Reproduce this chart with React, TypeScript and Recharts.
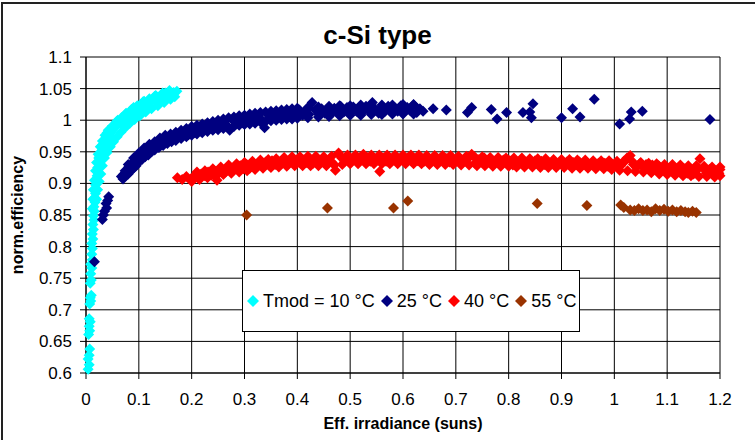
import React from "react";
import { CartesianGrid, Scatter, ScatterChart, XAxis, YAxis } from "recharts";

const FONT = '"Liberation Sans", Arial, sans-serif';

// [irradiance (suns), normalised efficiency]
const tmod10: [number, number][] = [
  [0.004, 0.606], [0.006, 0.613], [0.004, 0.622], [0.006, 0.628], [0.007, 0.638], [0.005, 0.661],
  [0.007, 0.667], [0.006, 0.674], [0.008, 0.681], [0.006, 0.686], [0.007, 0.709], [0.009, 0.714],
  [0.008, 0.719], [0.01, 0.723], [0.008, 0.742], [0.01, 0.747], [0.009, 0.757], [0.011, 0.766],
  [0.009, 0.772], [0.012, 0.779], [0.011, 0.788], [0.012, 0.797], [0.011, 0.805], [0.013, 0.812],
  [0.012, 0.82], [0.014, 0.827], [0.013, 0.835], [0.015, 0.842], [0.014, 0.849], [0.016, 0.856],
  [0.015, 0.863], [0.017, 0.87], [0.016, 0.877], [0.018, 0.884], [0.019, 0.891], [0.018, 0.898],
  [0.02, 0.905], [0.021, 0.912], [0.023, 0.918], [0.022, 0.925], [0.025, 0.931], [0.027, 0.937],
  [0.026, 0.943], [0.029, 0.948], [0.031, 0.953], [0.033, 0.958], [0.036, 0.963], [0.038, 0.968],
  [0.041, 0.972], [0.044, 0.976], [0.047, 0.98], [0.05, 0.984], [0.054, 0.988], [0.058, 0.992],
  [0.062, 0.995], [0.066, 0.998], [0.071, 1.001], [0.076, 1.004], [0.081, 1.008], [0.086, 1.011],
  [0.092, 1.014], [0.098, 1.017], [0.104, 1.02], [0.11, 1.023], [0.117, 1.026], [0.124, 1.029],
  [0.131, 1.032], [0.138, 1.035], [0.145, 1.037], [0.152, 1.04], [0.159, 1.042], [0.166, 1.044],
  [0.172, 1.046], [0.02, 0.92], [0.024, 0.94], [0.03, 0.96], [0.04, 0.98], [0.05, 0.99],
  [0.06, 1.0], [0.075, 1.01], [0.09, 1.02], [0.11, 1.03], [0.13, 1.038], [0.15, 1.043],
  [0.034, 0.945], [0.045, 0.97], [0.07, 0.992], [0.1, 1.011], [0.12, 1.02], [0.14, 1.03],
  [0.012, 0.86], [0.013, 0.875], [0.014, 0.89], [0.016, 0.905], [0.018, 0.92], [0.02, 0.933],
  [0.023, 0.946], [0.027, 0.958], [0.031, 0.967], [0.036, 0.976], [0.042, 0.984], [0.05, 0.991],
  [0.058, 0.998], [0.067, 1.004], [0.076, 1.011], [0.086, 1.017], [0.097, 1.023], [0.108, 1.029],
  [0.12, 1.034], [0.132, 1.039], [0.145, 1.043], [0.158, 1.047],
  [0.02, 0.875], [0.022, 0.89], [0.025, 0.903], [0.028, 0.915], [0.031, 0.928], [0.035, 0.94],
  [0.04, 0.949], [0.046, 0.958], [0.052, 0.966], [0.059, 0.974], [0.066, 0.981], [0.074, 0.988],
  [0.083, 0.995], [0.092, 1.001], [0.102, 1.007], [0.113, 1.013], [0.124, 1.018], [0.136, 1.023],
  [0.148, 1.028], [0.16, 1.033], [0.168, 1.037]
];

const tmod25: [number, number][] = [
  [0.016, 0.776], [0.031, 0.843], [0.033, 0.85], [0.035, 0.856], [0.039, 0.861], [0.038, 0.868],
  [0.041, 0.873], [0.043, 0.879],
  [0.067, 0.911], [0.071, 0.914], [0.074, 0.92], [0.078, 0.917], [0.081, 0.926], [0.084, 0.922],
  [0.087, 0.932], [0.09, 0.929], [0.093, 0.938], [0.096, 0.934], [0.099, 0.945], [0.102, 0.939],
  [0.105, 0.948], [0.108, 0.944], [0.111, 0.952], [0.114, 0.947], [0.117, 0.955], [0.12, 0.95],
  [0.124, 0.96], [0.128, 0.955], [0.132, 0.963], [0.136, 0.958], [0.14, 0.968], [0.144, 0.962],
  [0.148, 0.971], [0.152, 0.966], [0.157, 0.974], [0.162, 0.969], [0.167, 0.977], [0.172, 0.972],
  [0.177, 0.979], [0.182, 0.975], [0.188, 0.982], [0.194, 0.977], [0.2, 0.986], [0.206, 0.98],
  [0.212, 0.988], [0.218, 0.982], [0.224, 0.99], [0.23, 0.985], [0.236, 0.993], [0.242, 0.987],
  [0.248, 0.996], [0.254, 0.99], [0.26, 0.998], [0.266, 0.992], [0.272, 0.984], [0.278, 1.0],
  [0.284, 0.994], [0.29, 1.002], [0.296, 0.996], [0.302, 1.004], [0.308, 0.998], [0.314, 1.006],
  [0.32, 1.0], [0.326, 1.007], [0.332, 1.001], [0.338, 0.988], [0.344, 1.009], [0.35, 1.003],
  [0.356, 1.01], [0.362, 1.004], [0.368, 1.012], [0.374, 1.005], [0.38, 1.013], [0.386, 1.006],
  [0.392, 1.014], [0.398, 1.007], [0.404, 1.016], [0.41, 1.008], [0.416, 1.015], [0.422, 1.009],
  [0.428, 1.028], [0.434, 1.016], [0.44, 1.01], [0.446, 1.018], [0.452, 1.011], [0.458, 1.017],
  [0.464, 1.01], [0.47, 1.019], [0.476, 1.012], [0.482, 1.022], [0.488, 1.013], [0.494, 1.02],
  [0.5, 1.012], [0.506, 1.021], [0.512, 1.014], [0.518, 1.02], [0.524, 1.013], [0.53, 1.022],
  [0.536, 1.015], [0.542, 1.028], [0.548, 1.017], [0.554, 1.011], [0.56, 1.021], [0.566, 1.014],
  [0.572, 1.022], [0.578, 1.013], [0.584, 1.02], [0.59, 1.014], [0.596, 1.023], [0.602, 1.013],
  [0.608, 1.02], [0.614, 1.015], [0.62, 1.025], [0.626, 1.012], [0.632, 1.018], [0.638, 1.014],
  [0.07, 0.907], [0.075, 0.912], [0.08, 0.915], [0.085, 0.92], [0.09, 0.924], [0.095, 0.928],
  [0.1, 0.934], [0.106, 0.938], [0.112, 0.942], [0.118, 0.945], [0.124, 0.95], [0.13, 0.953],
  [0.138, 0.957], [0.146, 0.96], [0.154, 0.963], [0.162, 0.966], [0.17, 0.968], [0.18, 0.971],
  [0.19, 0.974], [0.2, 0.976], [0.21, 0.978], [0.22, 0.98], [0.23, 0.982], [0.24, 0.984],
  [0.25, 0.985], [0.26, 0.987], [0.27, 0.988], [0.28, 0.99], [0.29, 0.992], [0.3, 0.993],
  [0.31, 0.994], [0.32, 0.995], [0.33, 0.997], [0.34, 0.998], [0.35, 0.999], [0.36, 1.0],
  [0.37, 1.001], [0.38, 1.002], [0.39, 1.002], [0.4, 1.003], [0.42, 1.004], [0.44, 1.005],
  [0.46, 1.006], [0.48, 1.007], [0.5, 1.008], [0.52, 1.008], [0.54, 1.009], [0.56, 1.009],
  [0.58, 1.01], [0.6, 1.01], [0.62, 1.01],
  [0.08, 0.93], [0.09, 0.94], [0.1, 0.948], [0.11, 0.956], [0.12, 0.962], [0.13, 0.966],
  [0.14, 0.972], [0.15, 0.976], [0.16, 0.978], [0.17, 0.981], [0.18, 0.984], [0.19, 0.987],
  [0.2, 0.99], [0.21, 0.992], [0.22, 0.994], [0.23, 0.996], [0.24, 0.998], [0.25, 1.0],
  [0.26, 1.002], [0.27, 1.004], [0.28, 1.005], [0.29, 1.007], [0.3, 1.008], [0.31, 1.01],
  [0.32, 1.011], [0.33, 1.012], [0.34, 1.013], [0.35, 1.014], [0.36, 1.015], [0.37, 1.016],
  [0.38, 1.017], [0.39, 1.018], [0.4, 1.019], [0.42, 1.02], [0.44, 1.021], [0.46, 1.022],
  [0.48, 1.023], [0.5, 1.023], [0.52, 1.024], [0.54, 1.024], [0.56, 1.024], [0.58, 1.024],
  [0.6, 1.025], [0.62, 1.024],
  [0.657, 1.018], [0.682, 1.016], [0.722, 1.012], [0.73, 1.02], [0.767, 1.017], [0.778, 1.002],
  [0.796, 1.012], [0.827, 1.012], [0.84, 1.013], [0.843, 1.004], [0.846, 1.026], [0.9, 1.004],
  [0.921, 1.018], [0.935, 1.005], [0.962, 1.033], [1.01, 0.994], [1.029, 1.002], [1.032, 1.013],
  [1.053, 1.014], [1.181, 1.001]
];

const tmod40: [number, number][] = [
  [0.173, 0.909], [0.182, 0.906], [0.19, 0.911], [0.198, 0.907], [0.205, 0.912], [0.212, 0.909],
  [0.218, 0.915], [0.225, 0.912], [0.231, 0.918], [0.237, 0.913], [0.243, 0.92], [0.248, 0.905],
  [0.252, 0.917], [0.258, 0.922], [0.264, 0.918], [0.27, 0.925], [0.275, 0.92], [0.281, 0.926],
  [0.287, 0.922], [0.292, 0.928], [0.298, 0.923], [0.304, 0.93], [0.31, 0.924], [0.316, 0.931],
  [0.322, 0.926], [0.328, 0.933], [0.334, 0.928], [0.34, 0.934], [0.346, 0.929], [0.352, 0.936],
  [0.358, 0.93], [0.364, 0.935], [0.37, 0.931], [0.376, 0.937], [0.382, 0.93], [0.388, 0.936],
  [0.394, 0.932], [0.4, 0.938], [0.406, 0.932], [0.412, 0.937], [0.418, 0.933], [0.424, 0.939],
  [0.43, 0.932], [0.436, 0.938], [0.442, 0.934], [0.448, 0.937], [0.454, 0.931], [0.46, 0.936],
  [0.466, 0.933], [0.472, 0.921], [0.478, 0.948], [0.484, 0.94], [0.49, 0.935], [0.496, 0.942],
  [0.502, 0.936], [0.508, 0.94], [0.514, 0.934], [0.52, 0.942], [0.526, 0.936], [0.532, 0.941],
  [0.538, 0.935], [0.544, 0.94], [0.55, 0.936], [0.556, 0.919], [0.562, 0.94], [0.568, 0.935],
  [0.574, 0.941], [0.58, 0.936], [0.586, 0.94], [0.592, 0.935], [0.598, 0.939], [0.604, 0.936],
  [0.61, 0.941], [0.616, 0.935], [0.622, 0.939], [0.628, 0.936], [0.634, 0.94], [0.64, 0.935],
  [0.646, 0.939], [0.652, 0.936], [0.658, 0.94], [0.664, 0.934], [0.67, 0.938], [0.676, 0.935],
  [0.682, 0.939], [0.688, 0.934], [0.694, 0.938], [0.7, 0.935], [0.706, 0.939], [0.712, 0.933],
  [0.718, 0.937], [0.724, 0.94], [0.73, 0.946], [0.736, 0.932], [0.742, 0.938], [0.748, 0.934],
  [0.754, 0.94], [0.76, 0.933], [0.766, 0.938], [0.772, 0.934], [0.778, 0.937], [0.784, 0.932],
  [0.79, 0.937], [0.796, 0.933], [0.802, 0.936], [0.808, 0.929], [0.814, 0.934], [0.82, 0.931],
  [0.826, 0.936], [0.832, 0.93], [0.838, 0.935], [0.844, 0.931], [0.85, 0.936], [0.856, 0.932],
  [0.862, 0.935], [0.868, 0.93], [0.874, 0.934], [0.88, 0.931], [0.886, 0.935], [0.892, 0.93],
  [0.898, 0.934], [0.904, 0.93], [0.91, 0.934], [0.916, 0.929], [0.922, 0.933], [0.928, 0.93],
  [0.934, 0.934], [0.94, 0.929], [0.946, 0.932], [0.952, 0.928], [0.958, 0.933], [0.964, 0.929],
  [0.97, 0.932], [0.976, 0.928], [0.982, 0.932], [0.988, 0.927], [0.994, 0.931], [1.0, 0.927],
  [1.006, 0.932], [1.012, 0.928], [1.018, 0.935], [1.024, 0.94], [1.03, 0.944], [1.036, 0.93],
  [1.042, 0.925], [1.048, 0.931], [1.054, 0.926], [1.06, 0.93], [1.066, 0.925], [1.072, 0.929],
  [1.078, 0.924], [1.084, 0.928], [1.09, 0.921], [1.096, 0.926], [1.102, 0.919], [1.108, 0.925],
  [1.114, 0.918], [1.12, 0.924], [1.126, 0.917], [1.132, 0.923], [1.138, 0.916], [1.144, 0.922],
  [1.15, 0.915], [1.156, 0.921], [1.162, 0.939], [1.168, 0.924], [1.174, 0.916], [1.18, 0.922],
  [1.186, 0.914], [1.192, 0.92], [1.198, 0.916], [1.2, 0.922],
  [0.2, 0.903], [0.215, 0.906], [0.23, 0.909], [0.245, 0.911], [0.26, 0.914], [0.275, 0.916],
  [0.29, 0.918], [0.305, 0.92], [0.32, 0.922], [0.335, 0.924], [0.35, 0.925], [0.365, 0.926],
  [0.38, 0.927], [0.395, 0.928], [0.41, 0.928], [0.425, 0.928], [0.44, 0.928], [0.455, 0.928],
  [0.47, 0.929], [0.485, 0.93], [0.5, 0.931], [0.515, 0.931], [0.53, 0.931], [0.545, 0.931],
  [0.56, 0.931], [0.575, 0.931], [0.59, 0.931], [0.605, 0.931], [0.62, 0.931], [0.635, 0.931],
  [0.65, 0.93], [0.665, 0.93], [0.68, 0.93], [0.695, 0.93], [0.71, 0.929], [0.725, 0.929],
  [0.74, 0.928], [0.755, 0.928], [0.77, 0.927], [0.785, 0.927], [0.8, 0.927], [0.815, 0.926],
  [0.83, 0.926], [0.845, 0.926], [0.86, 0.925], [0.875, 0.925], [0.89, 0.925], [0.905, 0.925],
  [0.92, 0.924], [0.935, 0.924], [0.95, 0.924], [0.965, 0.923], [0.98, 0.923], [0.995, 0.922],
  [1.01, 0.921], [1.025, 0.92], [1.04, 0.919], [1.055, 0.918], [1.07, 0.917], [1.085, 0.915],
  [1.1, 0.914], [1.115, 0.913], [1.13, 0.912], [1.145, 0.912], [1.16, 0.911], [1.175, 0.911],
  [1.19, 0.91], [1.2, 0.912],
  [0.21, 0.918], [0.225, 0.92], [0.24, 0.923], [0.255, 0.926], [0.27, 0.929], [0.285, 0.931],
  [0.3, 0.933], [0.315, 0.935], [0.33, 0.937], [0.345, 0.938], [0.36, 0.939], [0.375, 0.941],
  [0.39, 0.942], [0.405, 0.942], [0.42, 0.943], [0.435, 0.943], [0.45, 0.942], [0.465, 0.943],
  [0.48, 0.944], [0.495, 0.945], [0.51, 0.945], [0.525, 0.946], [0.54, 0.945], [0.555, 0.945],
  [0.57, 0.945], [0.585, 0.945], [0.6, 0.945], [0.615, 0.945], [0.63, 0.945], [0.645, 0.944],
  [0.66, 0.944], [0.675, 0.944], [0.69, 0.944], [0.705, 0.943], [0.72, 0.943], [0.735, 0.942],
  [0.75, 0.942], [0.765, 0.941], [0.78, 0.941], [0.795, 0.94], [0.81, 0.94], [0.825, 0.94],
  [0.84, 0.939], [0.855, 0.939], [0.87, 0.939], [0.885, 0.938], [0.9, 0.938], [0.915, 0.938],
  [0.93, 0.937], [0.945, 0.937], [0.96, 0.936], [0.975, 0.936], [0.99, 0.936], [1.005, 0.935],
  [1.02, 0.935], [1.035, 0.934], [1.05, 0.933], [1.065, 0.932], [1.08, 0.931], [1.095, 0.93],
  [1.11, 0.93], [1.125, 0.929], [1.14, 0.928], [1.155, 0.928], [1.17, 0.927], [1.185, 0.926],
  [1.2, 0.926]
];

const tmod55: [number, number][] = [
  [0.304, 0.85], [0.457, 0.861], [0.582, 0.861], [0.609, 0.872], [0.854, 0.868], [0.948, 0.865],
  [1.012, 0.866], [1.018, 0.862], [1.03, 0.858], [1.038, 0.857], [1.046, 0.86], [1.054, 0.857],
  [1.062, 0.858], [1.07, 0.855], [1.078, 0.86], [1.086, 0.857], [1.094, 0.859], [1.102, 0.856],
  [1.11, 0.858], [1.118, 0.855], [1.126, 0.857], [1.134, 0.855], [1.14, 0.854], [1.148, 0.856],
  [1.155, 0.854]
];

const xTicks = [0, 0.1, 0.2, 0.3, 0.4, 0.5, 0.6, 0.7, 0.8, 0.9, 1, 1.1, 1.2];
const yTicks = [0.6, 0.65, 0.7, 0.75, 0.8, 0.85, 0.9, 0.95, 1, 1.05, 1.1];

const series = [
  { name: "Tmod = 10 °C", color: "#00FFFF", points: tmod10 },
  { name: "25 °C", color: "#000080", points: tmod25 },
  { name: "40 °C", color: "#FF0000", points: tmod40 },
  { name: "55 °C", color: "#993300", points: tmod55 }
];

const Diamond = (props: any) => {
  const { cx, cy, fill } = props;
  const r = 5.5;
  return <polygon points={`${cx},${cy - r} ${cx + r},${cy} ${cx},${cy + r} ${cx - r},${cy}`} fill={fill} />;
};

const tickStyle = { fontSize: 17, fill: "#000", fontFamily: FONT };

export default function App() {
  return (
    <div
      style={{
        position: "absolute",
        left: 0,
        top: 0,
        width: 755,
        height: 440,
        overflow: "hidden",
        background: "#fff",
        fontFamily: FONT
      }}
    >
      <div
        style={{
          position: "absolute",
          left: 1,
          top: 2,
          width: 800,
          height: 500,
          border: "2px solid #222"
        }}
      />
      <div
        style={{
          position: "absolute",
          left: 0,
          top: 22,
          width: 755,
          textAlign: "center",
          fontSize: 26,
          lineHeight: "26px",
          fontWeight: "bold"
        }}
      >
        c-Si type
      </div>
      <div style={{ position: "absolute", left: 0, top: 0 }}>
        <ScatterChart width={755} height={440} margin={{ top: 57, right: 35, bottom: 0, left: 0 }}>
          <CartesianGrid stroke="#000" strokeWidth={1} />
          <XAxis
            type="number"
            dataKey="x"
            domain={[0, 1.2]}
            ticks={xTicks}
            interval={0}
            height={67}
            tickSize={6}
            tickMargin={14}
            stroke="#000"
            tick={tickStyle}
            label={{
              value: "Eff. irradiance (suns)",
              position: "insideBottom",
              offset: 11,
              style: { fontSize: 16, fontWeight: "bold", fill: "#000", fontFamily: FONT }
            }}
          />
          <YAxis
            type="number"
            dataKey="y"
            domain={[0.6, 1.1]}
            ticks={yTicks}
            interval={0}
            width={86}
            tickSize={6}
            tickMargin={8}
            stroke="#000"
            tick={tickStyle}
            label={{
              value: "norm.efficiency",
              angle: -90,
              position: "insideLeft",
              offset: 17,
              style: { fontSize: 16, fontWeight: "bold", fill: "#000", fontFamily: FONT, textAnchor: "middle" }
            }}
          />
          {series.map((s) => (
            <Scatter
              key={s.name}
              name={s.name}
              data={s.points.map(([x, y]) => ({ x, y }))}
              fill={s.color}
              shape={Diamond}
              isAnimationActive={false}
            />
          ))}
        </ScatterChart>
      </div>
      <div
        style={{
          position: "absolute",
          left: 242,
          top: 270,
          width: 338,
          height: 62,
          boxSizing: "border-box",
          border: "1.5px solid #000",
          background: "#fff",
          display: "flex",
          alignItems: "center",
          paddingLeft: 4,
          fontSize: 18,
          whiteSpace: "nowrap"
        }}
      >
        {series.map((s) => (
          <div key={s.name} style={{ display: "flex", alignItems: "center", marginRight: 6 }}>
            <svg width={12} height={12} style={{ marginRight: 4 }}>
              <polygon points="6,0 12,6 6,12 0,6" fill={s.color} />
            </svg>
            <span>{s.name}</span>
          </div>
        ))}
      </div>
    </div>
  );
}
